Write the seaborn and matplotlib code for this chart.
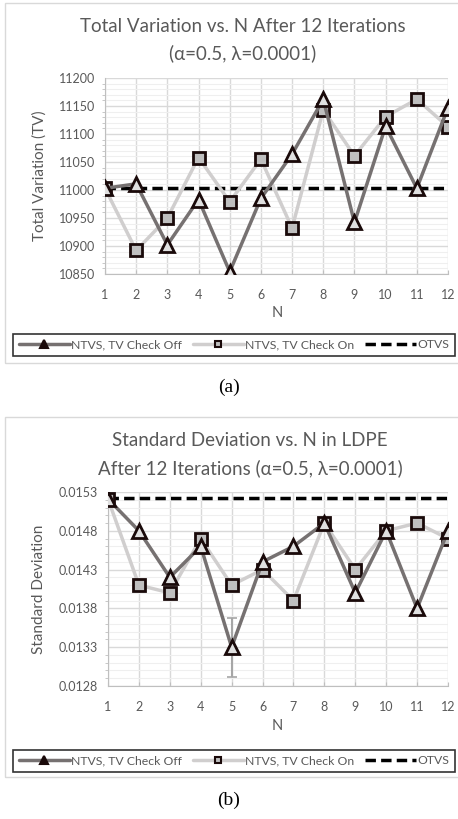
import numpy as np
import pandas as pd
import matplotlib
matplotlib.use('Agg')
import matplotlib.pyplot as plt
from matplotlib.patches import Rectangle
from matplotlib.lines import Line2D
from matplotlib.ticker import MultipleLocator
import seaborn as sns

sns.set_style('white')
plt.rcParams['font.family'] = ['Lato', 'DejaVu Sans']

# values
n_values = list(range(1, 13))
tv_check_off = [11003, 11011, 10902, 10983, 10854, 10985, 11064, 11162, 10942, 11114, 11003, 11147]
tv_check_on = [11003, 10892, 10950, 11058, 10979, 11055, 10932, 11143, 11061, 11131, 11162, 11113]
tv_otvs = 11003

sd_check_off = [0.01521, 0.0148, 0.0142, 0.0146, 0.0133, 0.0144, 0.0146, 0.0149, 0.0140, 0.0148, 0.0138, 0.0148]
sd_check_on = [0.01521, 0.0141, 0.0140, 0.0147, 0.0141, 0.0143, 0.0139, 0.0149, 0.0143, 0.0148, 0.0149, 0.0147]
sd_otvs = 0.01522
sd_err_n = 5
sd_err = 0.00038

label_off = 'NTVS, TV Check Off'
label_on = 'NTVS, TV Check On'
label_otvs = 'OTVS'

TXT = '#595959'
DARK = '#767171'
LIGHT = '#d0cece'
EDGE = '#1a0a0a'

W, H = 458, 819
fig = plt.figure(figsize=(W / 100, H / 100), dpi=100)


def px_axes(x0, y0, x1, y1):
    return fig.add_axes([x0 / W, 1 - y1 / H, (x1 - x0) / W, (y1 - y0) / H])


def draw_panel(box, ax_px, off, on, otvs):
    # light frame around each chart, like the Excel chart area
    fig.add_artist(Rectangle((box[0] / W, 1 - box[3] / H), (box[2] - box[0]) / W,
                             (box[3] - box[1]) / H, transform=fig.transFigure,
                             fill=False, edgecolor='#d9d9d9', linewidth=1))
    ax = px_axes(*ax_px)
    df = pd.DataFrame({'N': n_values, 'off': off, 'on': on, 'otvs': [otvs] * len(n_values)})

    sns.lineplot(data=df, x='N', y='otvs', ax=ax, color='black', linestyle=(0, (3, 1.5)),
                 linewidth=2.5, zorder=2)
    sns.lineplot(data=df, x='N', y='on', ax=ax, color=LIGHT, linewidth=2.5, marker='s',
                 markersize=8, markerfacecolor='#bfbfbf', markeredgecolor=EDGE,
                 markeredgewidth=2, zorder=3)
    sns.lineplot(data=df, x='N', y='off', ax=ax, color=DARK, linewidth=2.5, marker='^',
                 markersize=10, markerfacecolor='#e0e0e0', markeredgecolor=EDGE,
                 markeredgewidth=2, zorder=4)
    return ax


def style_axes(ax, ylim, major, minor, fmt, ylabel):
    ax.set_xlim(1, 12)
    ax.set_ylim(*ylim)
    ax.xaxis.set_major_locator(MultipleLocator(1))
    ax.set_yticks(np.arange(ylim[0], ylim[1] + major / 2, major))
    ax.set_yticks(np.arange(ylim[0], ylim[1] + minor / 2, minor), minor=True)
    ax.yaxis.set_major_formatter(plt.FuncFormatter(lambda v, p: fmt.format(v)))
    ax.grid(which='major', color='#d9d9d9', linewidth=1)
    ax.grid(which='minor', axis='y', color='#efefef', linewidth=0.8)
    ax.set_axisbelow(True)
    for s in ['top', 'right']:
        ax.spines[s].set_visible(False)
    for s in ['left', 'bottom']:
        ax.spines[s].set_color('#bfbfbf')
    ax.tick_params(axis='y', which='major', colors=TXT, labelsize=9, length=4, color='#bfbfbf', pad=3)
    ax.tick_params(axis='y', which='minor', length=2.5, color='#bfbfbf', left=True)
    ax.tick_params(axis='x', which='major', colors=TXT, labelsize=9, length=3, color='#bfbfbf',
                   direction='in', bottom=True, pad=11)
    ax.set_xlabel('')
    ax.set_ylabel(ylabel, color=TXT, fontsize=11, labelpad=9)


def add_texts(title_ys, title_lines, xlabel_y, caption, caption_y, cx):
    for ty, line in zip(title_ys, title_lines):
        fig.text(cx / W, 1 - ty / H, line, ha='center', va='center', fontsize=13.5, color=TXT)
    fig.text(277 / W, 1 - xlabel_y / H, 'N', ha='center', va='center', fontsize=10.5, color=TXT)
    fig.text(W / 2 / W, 1 - caption_y / H, caption, ha='center', va='center', fontsize=14,
             family='Liberation Serif', color='black')


def add_legend(ax, legend_box):
    handles = [
        Line2D([], [], color=DARK, linewidth=2.5, marker='^', markersize=6,
               markerfacecolor=EDGE, markeredgecolor=EDGE, markeredgewidth=1.5),
        Line2D([], [], color=LIGHT, linewidth=2.5, marker='s', markersize=5,
               markerfacecolor='#bfbfbf', markeredgecolor=EDGE, markeredgewidth=1.5),
        Line2D([], [], color='black', linewidth=2.5, linestyle=(0, (3, 1.5))),
    ]
    x0, y0, x1, y1 = legend_box
    leg = ax.legend(handles, [label_off, label_on, label_otvs],
                    loc='lower left', mode='expand', ncol=3,
                    bbox_to_anchor=(x0 / W, 1 - y1 / H, (x1 - x0) / W, (y1 - y0) / H),
                    bbox_transform=fig.transFigure, fancybox=False, frameon=True,
                    edgecolor='black', fontsize=8.8, handlelength=4.2, handletextpad=0.1,
                    columnspacing=0.8, borderaxespad=0, borderpad=0.45, labelcolor=TXT)
    leg.get_frame().set_linewidth(1.2)


# panel (a)
ax1 = draw_panel((5, 3, 470, 363), (105, 78, 448, 274), tv_check_off, tv_check_on, tv_otvs)
style_axes(ax1, (10850, 11200), 50, 10, '{:.0f}', 'Total Variation (TV)')
add_texts((27, 53), ['Total Variation vs. N After 12 Iterations', '(\u03b1=0.5, \u03bb=0.0001)'],
          313, '(a)', 387, 243)
add_legend(ax1, (13, 330, 455, 356))

# panel (b)
ax2 = draw_panel((5, 417, 470, 777), (108, 492, 448, 686), sd_check_off, sd_check_on, sd_otvs)
ax2.errorbar([sd_err_n], [sd_check_off[sd_err_n - 1]], yerr=[sd_err], fmt='none',
             ecolor='#a6a6a6', elinewidth=1.5, capsize=3.5, capthick=1.2, zorder=3.5)
style_axes(ax2, (0.0128, 0.0153), 0.0005, 0.0001, '{:.4f}', 'Standard Deviation')
add_texts((440, 468), ['Standard Deviation vs. N in LDPE', 'After 12 Iterations (\u03b1=0.5, \u03bb=0.0001)'],
          726, '(b)', 800, 250)
add_legend(ax2, (13, 747, 455, 772))

fig.savefig('out.png', dpi=100)
